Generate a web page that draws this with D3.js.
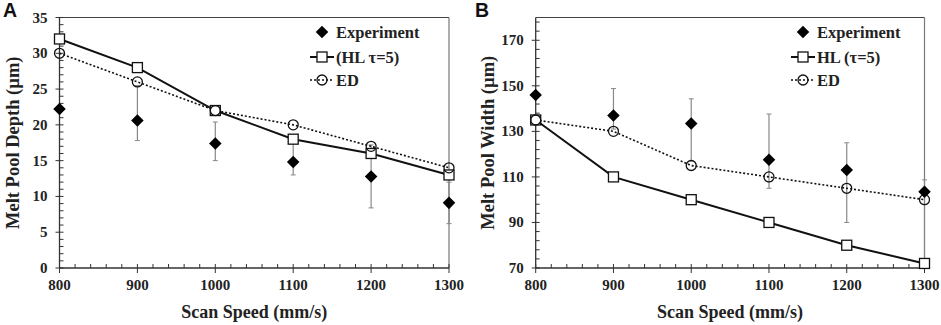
<!DOCTYPE html>
<html>
<head>
<meta charset="utf-8">
<script src="https://cdn.jsdelivr.net/npm/d3@7"></script>
<style>
  body { margin: 0; background: #fff; }
  svg { display: block; }
  text { font-family: "Liberation Serif", "Times New Roman", serif; font-weight: bold; fill: #222; }
  .letter { font-family: "Liberation Sans", Arial, sans-serif; font-size: 19.5px; fill: #111; }
</style>
</head>
<body>
<script>
// shared x values
const speeds = [800, 900, 1000, 1100, 1200, 1300];

// panel A - depth
const depthExp = [22.2, 20.6, 17.4, 14.8, 12.8, 9.1];
const depthErrLow = [null, 17.8, 15.0, 13.0, 8.4, 6.2];
const depthErrHigh = [null, 25.5, 20.4, 17.5, 17.2, 12.0];
const depthHL = [32, 28, 22, 18, 16, 13];
const depthED = [30, 26, 22, 20, 17, 14];
const depthTicks = [0, 5, 10, 15, 20, 25, 30, 35];

// panel B - width
const widthExp = [146, 137, 133.5, 117.5, 113, 103.5];
const widthErrLow = [null, 131, 117, 105, 90, 70];
const widthErrHigh = [null, 148.8, 144.3, 137.6, 125, 108.7];
const widthHL = [135, 110, 100, 90, 80, 72];
const widthED = [135, 130, 115, 110, 105, 100];
const widthTicks = [70, 90, 110, 130, 150, 170];

const W = 941, H = 325;
const svg = d3.select("body").append("svg").attr("width", W).attr("height", H);

const drawPanel = (cfg) => {
  const g = svg.append("g");
  const x = d3.scaleLinear().domain([800, 1300]).range([cfg.x0, cfg.x1]);
  const y = d3.scaleLinear().domain(cfg.yDomain).range([268, 17.5]);

  // letter
  g.append("text").attr("class", "letter").attr("x", cfg.letterX).attr("y", 16.5).text(cfg.letter);

  // frame (top + right)
  g.append("line").attr("x1", cfg.x0).attr("x2", cfg.x1).attr("y1", y.range()[1]).attr("y2", y.range()[1])
    .attr("stroke", "#444").attr("stroke-width", 1);
  g.append("line").attr("x1", cfg.x1).attr("x2", cfg.x1).attr("y1", y.range()[1]).attr("y2", y.range()[0])
    .attr("stroke", "#777").attr("stroke-width", 1.2);

  // axes lines
  g.append("line").attr("x1", cfg.x0).attr("x2", cfg.x1).attr("y1", y.range()[0]).attr("y2", y.range()[0])
    .attr("stroke", "#333").attr("stroke-width", 1.3);
  g.append("line").attr("x1", cfg.x0).attr("x2", cfg.x0).attr("y1", y.range()[0]).attr("y2", y.range()[1])
    .attr("stroke", "#333").attr("stroke-width", 1.3);

  // minor ticks
  const xMinor = d3.range(800, 1301, 20).filter((v) => v % 100 !== 0);
  g.selectAll(".xminor").data(xMinor).enter().append("line")
    .attr("x1", (d) => x(d)).attr("x2", (d) => x(d))
    .attr("y1", y.range()[0]).attr("y2", y.range()[0] - 4)
    .attr("stroke", "#333");
  const yMinor = d3.range(cfg.yDomain[0], cfg.yDomain[1] + 0.001, cfg.yMinorStep)
    .filter((v) => !cfg.ticks.includes(v));
  g.selectAll(".yminor").data(yMinor).enter().append("line")
    .attr("x1", cfg.x0).attr("x2", cfg.x0 + 4)
    .attr("y1", (d) => y(d)).attr("y2", (d) => y(d))
    .attr("stroke", "#333");

  // major ticks
  g.selectAll(".xmajor").data(speeds).enter().append("line")
    .attr("x1", (d) => x(d)).attr("x2", (d) => x(d))
    .attr("y1", y.range()[0] - 4).attr("y2", y.range()[0] + 5)
    .attr("stroke", "#333");
  g.selectAll(".ymajor").data(cfg.ticks).enter().append("line")
    .attr("x1", cfg.x0 - 4).attr("x2", cfg.x0 + 4)
    .attr("y1", (d) => y(d)).attr("y2", (d) => y(d))
    .attr("stroke", "#333");

  // tick labels
  g.selectAll(".xlab").data(speeds).enter().append("text")
    .attr("x", (d) => x(d)).attr("y", 290)
    .attr("text-anchor", "middle").attr("font-size", "15px").text((d) => d);
  g.selectAll(".ylab").data(cfg.ticks).enter().append("text")
    .attr("x", cfg.x0 - 12).attr("y", (d) => y(d) + 5)
    .attr("text-anchor", "end").attr("font-size", "15px").text((d) => d);

  // axis titles
  g.append("text").attr("x", (cfg.x0 + cfg.x1) / 2).attr("y", 318)
    .attr("text-anchor", "middle").attr("font-size", "18px").text("Scan Speed (mm/s)");
  g.append("text")
    .attr("transform", `translate(${cfg.titleX}, ${(y.range()[0] + y.range()[1]) / 2}) rotate(-90)`)
    .attr("text-anchor", "middle").attr("font-size", "18.5px").text(cfg.yTitle);

  // error bars
  const errs = speeds.map((s, i) => ({ s, lo: cfg.errLow[i], hi: cfg.errHigh[i] })).filter((d) => d.lo !== null);
  g.selectAll(".err").data(errs).enter().append("line")
    .attr("x1", (d) => x(d.s)).attr("x2", (d) => x(d.s))
    .attr("y1", (d) => y(d.lo)).attr("y2", (d) => y(d.hi))
    .attr("stroke", "#888").attr("stroke-width", 1.2);
  errs.forEach((d) => {
    [d.lo, d.hi].forEach((v) => {
      g.append("line").attr("x1", x(d.s) - 2.5).attr("x2", x(d.s) + 2.5)
        .attr("y1", y(v)).attr("y2", y(v)).attr("stroke", "#888").attr("stroke-width", 1);
    });
  });

  // lines
  const line = d3.line().x((d, i) => x(speeds[i])).y((d) => y(d));
  g.append("path").datum(cfg.ed).attr("d", line).attr("fill", "none")
    .attr("stroke", "#111").attr("stroke-width", 1.6).attr("stroke-dasharray", "2,2");
  g.append("path").datum(cfg.hl).attr("d", line).attr("fill", "none")
    .attr("stroke", "#111").attr("stroke-width", 2);

  // markers
  g.selectAll(".sq").data(cfg.hl).enter().append("rect")
    .attr("x", (d, i) => x(speeds[i]) - 5).attr("y", (d) => y(d) - 5)
    .attr("width", 10).attr("height", 10)
    .attr("fill", "#fff").attr("stroke", "#111").attr("stroke-width", 1.3);
  g.selectAll(".ci").data(cfg.ed).enter().append("circle")
    .attr("cx", (d, i) => x(speeds[i])).attr("cy", (d) => y(d)).attr("r", 5)
    .attr("fill", "none").attr("stroke", "#111").attr("stroke-width", 1.3);
  const diamond = d3.symbol().type(d3.symbolDiamond2).size(100);
  g.selectAll(".dm").data(cfg.exp).enter().append("path")
    .attr("transform", (d, i) => `translate(${x(speeds[i])}, ${y(d)})`)
    .attr("d", diamond).attr("fill", "#000");

  // legend
  const lg = g.append("g").attr("transform", `translate(${cfg.legX}, 0)`);
  const rows = [32, 57, 80];
  lg.append("path").attr("transform", `translate(12, ${rows[0]})`).attr("d", diamond).attr("fill", "#000");
  lg.append("line").attr("x1", 0).attr("x2", 24).attr("y1", rows[1]).attr("y2", rows[1])
    .attr("stroke", "#111").attr("stroke-width", 2);
  lg.append("rect").attr("x", 7).attr("y", rows[1] - 5).attr("width", 10).attr("height", 10)
    .attr("fill", "#fff").attr("stroke", "#111").attr("stroke-width", 1.3);
  lg.append("line").attr("x1", 0).attr("x2", 24).attr("y1", rows[2]).attr("y2", rows[2])
    .attr("stroke", "#111").attr("stroke-width", 1.6).attr("stroke-dasharray", "2,2");
  lg.append("circle").attr("cx", 12).attr("cy", rows[2]).attr("r", 5)
    .attr("fill", "none").attr("stroke", "#111").attr("stroke-width", 1.3);
  const labels = ["Experiment", cfg.hlLabel, "ED"];
  lg.selectAll(".lt").data(labels).enter().append("text")
    .attr("x", 26).attr("y", (d, i) => rows[i] + 5.5)
    .attr("font-size", "16.5px").text((d) => d);
};

drawPanel({
  letter: "A", letterX: 3, x0: 59.5, x1: 449, yDomain: [0, 35], ticks: depthTicks, yMinorStep: 1,
  yTitle: "Melt Pool Depth (µm)", titleX: 19, exp: depthExp, errLow: depthErrLow, errHigh: depthErrHigh,
  hl: depthHL, ed: depthED, hlLabel: "(HL τ=5)", legX: 310,
});

drawPanel({
  letter: "B", letterX: 475, x0: 535.7, x1: 924.5, yDomain: [70, 180], ticks: widthTicks, yMinorStep: 4,
  yTitle: "Melt Pool Width (µm)", titleX: 494, exp: widthExp, errLow: widthErrLow, errHigh: widthErrHigh,
  hl: widthHL, ed: widthED, hlLabel: "HL (τ=5)", legX: 791,
});
</script>
</body>
</html>
